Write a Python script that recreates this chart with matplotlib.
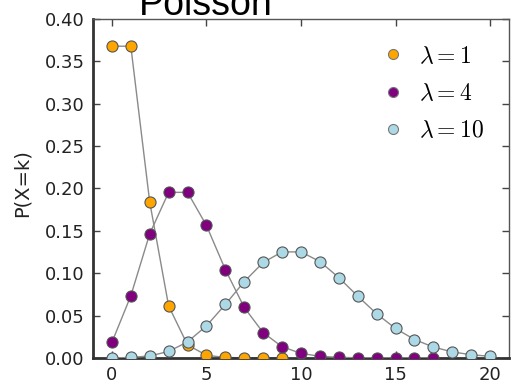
import matplotlib
matplotlib.use("Agg")
import matplotlib.pyplot as plt

# Poisson probability mass values P(X=k), one list per rate
k1 = list(range(0, 10))
p1 = [0.3679, 0.3679, 0.1839, 0.0613, 0.0153, 0.0031, 0.0005, 0.0001, 0.0000, 0.0000]

k4 = list(range(0, 18))
p4 = [0.0183, 0.0733, 0.1465, 0.1954, 0.1954, 0.1563, 0.1042, 0.0595, 0.0298,
      0.0132, 0.0053, 0.0019, 0.0006, 0.0002, 0.0001, 0.0000, 0.0000, 0.0000]

k10 = list(range(0, 21))
p10 = [0.0000, 0.0005, 0.0023, 0.0076, 0.0189, 0.0378, 0.0631, 0.0901, 0.1126,
       0.1251, 0.1251, 0.1137, 0.0948, 0.0729, 0.0521, 0.0347, 0.0217, 0.0128,
       0.0071, 0.0037, 0.0019]

series = [
    (k1, p1, "orange", r"$\lambda=1$"),
    (k4, p4, "purple", r"$\lambda=4$"),
    (k10, p10, "lightblue", r"$\lambda=10$"),
]

plt.rcParams["mathtext.fontset"] = "cm"

fig = plt.figure(figsize=(5.11, 3.84), dpi=100)
ax = fig.add_axes([0.182, 0.068, 0.814, 0.8825])

for z, (k, p, color, label) in enumerate(series):
    ax.plot(k, p, "-", color="#8a8a8a", lw=1.0, zorder=2 + 2 * z)
    ax.plot(k, p, "o", color=color, mec="#555555", mew=0.8, ms=8,
            label=label, zorder=3 + 2 * z)

ax.set_xlim(-1, 21)
ax.set_ylim(0, 0.40)
ax.set_xticks([0, 5, 10, 15, 20])
ax.set_yticks([0.00, 0.05, 0.10, 0.15, 0.20, 0.25, 0.30, 0.35, 0.40])
ax.yaxis.set_major_formatter(matplotlib.ticker.FormatStrFormatter("%.2f"))
ax.tick_params(direction="in", top=True, right=True, length=5, width=1,
               color="#444444", labelsize=13, labelcolor="#222222", pad=6)

for side in ("left", "bottom"):
    ax.spines[side].set_linewidth(2.0)
    ax.spines[side].set_color("#333333")
for side in ("top", "right"):
    ax.spines[side].set_linewidth(1.0)
    ax.spines[side].set_color("#555555")

ax.set_ylabel("P(X=k)", fontsize=14, color="#222222", labelpad=7)
ax.yaxis.set_label_coords(-0.147, 0.515)

leg = ax.legend(loc="upper right", bbox_to_anchor=(0.939, 0.927), frameon=False,
                numpoints=1, fontsize=17, markerscale=0.9, handletextpad=0.3,
                handlelength=1.6, labelspacing=0.56, borderaxespad=0, borderpad=0)
for h in leg.legend_handles:
    h.set_markeredgecolor("#777777")

fig.text(0.403, 0.961, "Poisson", fontsize=27, family="Liberation Sans",
         ha="center", va="baseline", color="black")

fig.savefig("out.png", dpi=100)
